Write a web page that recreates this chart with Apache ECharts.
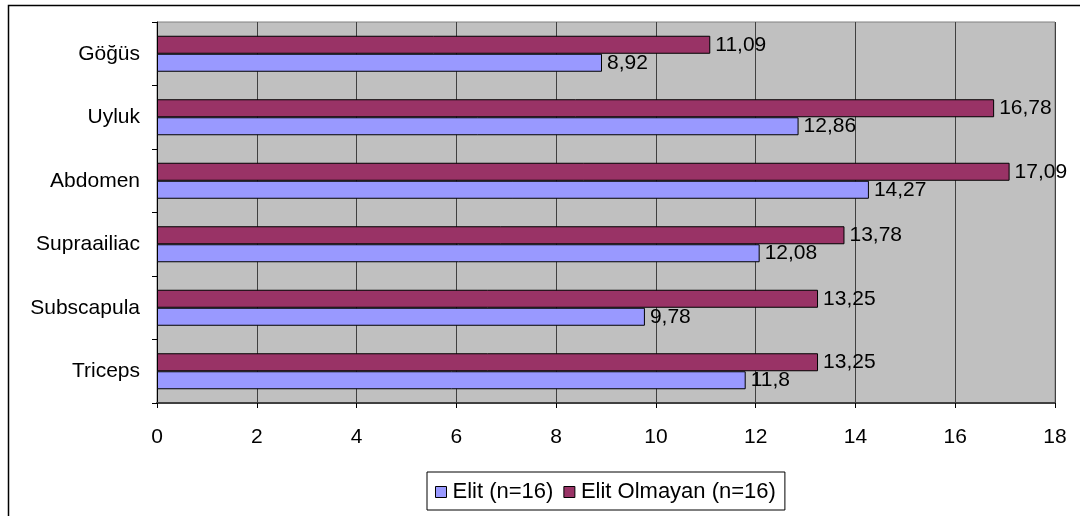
<!DOCTYPE html>
<html>
<head>
<meta charset="utf-8">
<script src="https://cdn.jsdelivr.net/npm/echarts@6/dist/echarts.min.js"></script>
<style>
  html, body { margin: 0; padding: 0; background: #fff; }
  #chart { width: 1080px; height: 516px; }
</style>
</head>
<body>
<div id="chart"></div>
<script>
// Skinfold measurements (mm), listed bottom-to-top as drawn on the category axis
const categories = ['Triceps', 'Subscapula', 'Supraailiac', 'Abdomen', 'Uyluk', 'Göğüs'];
const elit = [11.8, 9.78, 12.08, 14.27, 12.86, 8.92];
const elitOlmayan = [13.25, 13.25, 13.78, 17.09, 16.78, 11.09];
const xTicks = { min: 0, max: 18, interval: 2 };
const seriesNames = ['Elit (n=16)', 'Elit Olmayan (n=16)'];

const font = 'Liberation Sans, Arial, sans-serif';
const fs = 21;
const fmt = p => String(p.value).replace('.', ',');
const labelStyle = {
  show: true, position: 'right', distance: 5, formatter: fmt,
  fontFamily: font, fontSize: fs, color: '#000'
};

const chart = echarts.init(document.getElementById('chart'), null, { renderer: 'canvas' });
chart.setOption({
  animation: false,
  backgroundColor: '#fff',
  graphic: [{
    type: 'rect',
    shape: { x: 8.5, y: 5.5, width: 1200, height: 600 },
    style: { fill: 'none', stroke: '#000', lineWidth: 1.5 },
    silent: true
  }],
  grid: {
    left: 157, top: 22, right: 25, bottom: 113,
    show: true, backgroundColor: '#C0C0C0', borderColor: '#808080', borderWidth: 1
  },
  legend: {
    bottom: 6, left: 427,
    data: seriesNames,
    itemWidth: 11, itemHeight: 11, itemGap: 10,
    icon: 'rect',
    padding: [9, 9, 7, 8],
    borderColor: '#000', borderWidth: 1, backgroundColor: '#fff',
    textStyle: { fontFamily: font, fontSize: 22, color: '#000', padding: [0, 0, 0, 1] },
    itemStyle: { borderColor: '#000', borderWidth: 1 }
  },
  xAxis: {
    type: 'value',
    min: xTicks.min, max: xTicks.max, interval: xTicks.interval,
    axisLine: { show: true, lineStyle: { color: '#404040', width: 2 } },
    axisTick: { show: true, length: 5, lineStyle: { color: '#000' } },
    axisLabel: { fontFamily: font, fontSize: fs, color: '#000', margin: 24 },
    splitLine: { show: true, lineStyle: { color: '#404040', width: 1 } }
  },
  yAxis: {
    type: 'category',
    data: categories,
    axisLine: { show: true, lineStyle: { color: '#000', width: 1 } },
    axisTick: { show: true, length: 5, lineStyle: { color: '#000' } },
    axisLabel: { fontFamily: font, fontSize: fs, color: '#000', margin: 17 },
    splitLine: { show: false }
  },
  series: [
    {
      name: seriesNames[1], type: 'bar', data: elitOlmayan,
      barWidth: 18, barGap: '0%',
      itemStyle: { color: '#993366', borderColor: '#000', borderWidth: 1 },
      label: labelStyle
    },
    {
      name: seriesNames[0], type: 'bar', data: elit,
      barWidth: 18, barGap: '0%',
      itemStyle: { color: '#9999FF', borderColor: '#000', borderWidth: 1 },
      label: labelStyle
    }
  ]
});
</script>
</body>
</html>
